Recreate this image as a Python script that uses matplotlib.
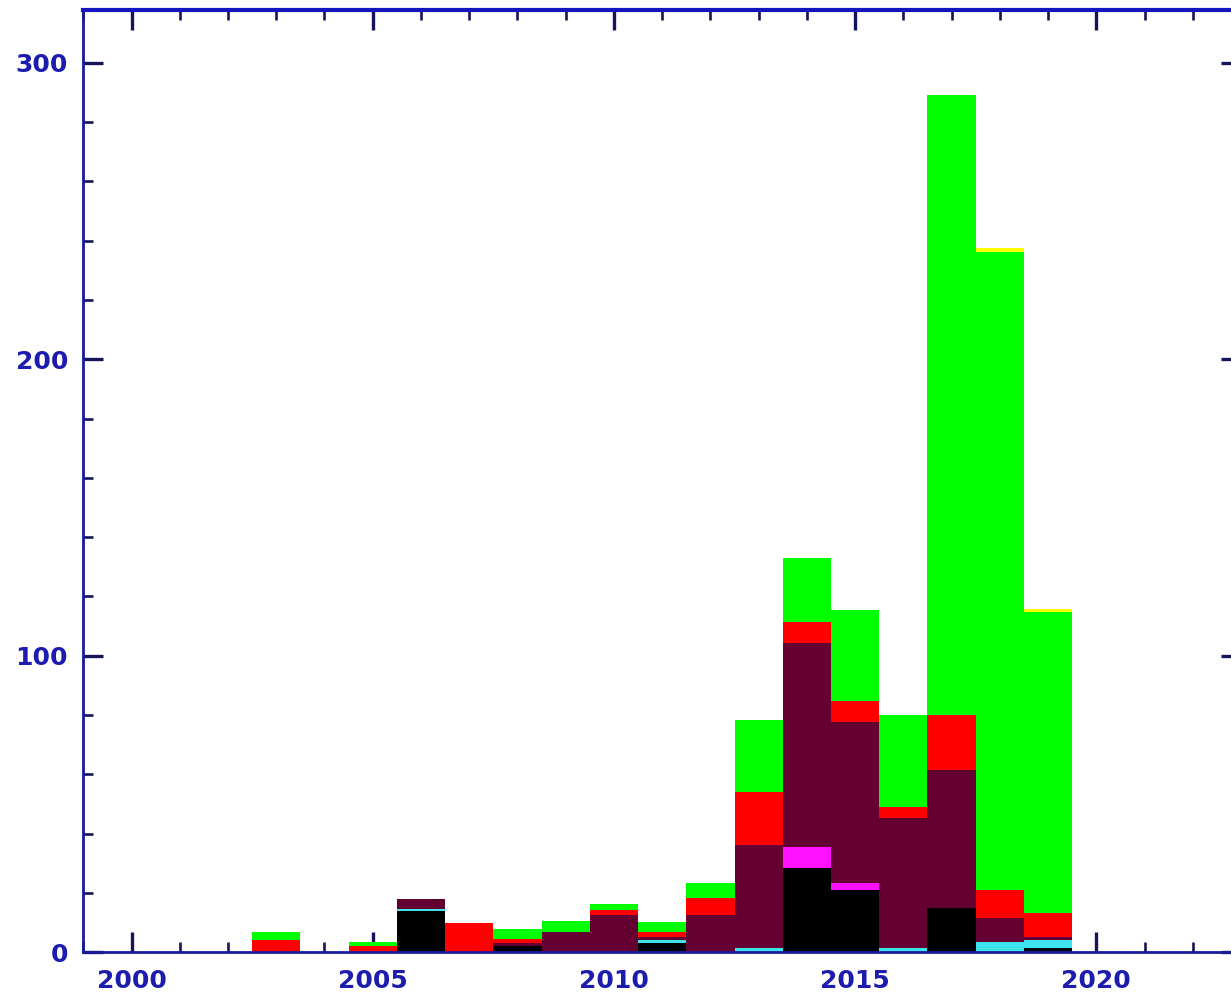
import numpy as np
import matplotlib
matplotlib.use("Agg")
import matplotlib.pyplot as plt
from matplotlib.ticker import MultipleLocator

# Yearly counts, stacked from bottom to top by category
years = [2003, 2004, 2005, 2006, 2007, 2008, 2009, 2010, 2011,
         2012, 2013, 2014, 2015, 2016, 2017, 2018, 2019]

black_vals   = [0, 0, 0, 14.0, 0, 2.0, 0, 0, 3.0, 0, 0, 28.3, 21.0, 0, 14.8, 0, 1.3]
cyan_vals    = [0, 0, 0, 0.7, 0, 0, 0, 0, 1.2, 0, 1.5, 0, 0, 1.5, 0, 3.6, 2.8]
magenta_vals = [0, 0, 0, 0, 0, 0, 0, 0, 0, 0, 0, 7.1, 2.5, 0, 0, 0, 0]
maroon_vals  = [0, 0, 0, 3.2, 0, 1.0, 7.0, 12.6, 1.0, 12.6, 34.7, 68.8, 54.1, 43.9, 46.7, 7.9, 1.2]
red_vals     = [4.0, 0, 2.2, 0, 10.0, 1.5, 0, 1.7, 1.5, 5.6, 18.0, 7.1, 7.2, 3.7, 18.5, 9.5, 7.9]
green_vals   = [2.7, 0, 1.4, 0, 0, 3.5, 3.7, 2.0, 3.6, 5.1, 24.1, 21.6, 30.6, 30.9, 209.2, 215.2, 101.7]
yellow_vals  = [0, 0, 0, 0, 0, 0, 0, 0, 0, 0, 0, 0, 0, 0, 0, 1.5, 1.0]

series = [
    (black_vals, "#000000"),
    (cyan_vals, "#3fe3ee"),
    (magenta_vals, "#ff10ff"),
    (maroon_vals, "#650032"),
    (red_vals, "#ff0000"),
    (green_vals, "#00ff00"),
    (yellow_vals, "#ffff00"),
]

x_ticks = [2000, 2005, 2010, 2015, 2020]
x_tick_labels = ["2000", "2005", "2010", "2015", "2020"]
y_ticks = [0, 100, 200, 300]
y_tick_labels = ["0", "100", "200", "300"]

W, H = 1231, 998
fig = plt.figure(figsize=(W / 100, H / 100), dpi=100)
fig.patch.set_facecolor("white")

# axes frame runs slightly past the right edge of the figure
left_px, right_px = 83.3, 1241.0
bottom_px, top_px = 952.3, 10.0
ax = fig.add_axes([left_px / W, (H - bottom_px) / H,
                   (right_px - left_px) / W, (bottom_px - top_px) / H])

bottom = np.zeros(len(years))
for vals, color in series:
    v = np.asarray(vals, dtype=float)
    ax.bar(years, v, width=1.0, bottom=bottom, color=color,
           linewidth=0, align="center", zorder=2)
    bottom += v

ax.set_xlim(1999, 2023)
ax.set_ylim(0, 317.8)

ax.set_xticks(x_ticks)
ax.set_xticklabels(x_tick_labels)
ax.set_yticks(y_ticks)
ax.set_yticklabels(y_tick_labels)
ax.xaxis.set_minor_locator(MultipleLocator(1))
ax.yaxis.set_minor_locator(MultipleLocator(20))

tick_color = "#15155e"
label_color = "#1c1cae"
ax.tick_params(which="both", direction="in", top=True, right=True,
               color=tick_color, labelcolor=label_color)
ax.tick_params(which="major", length=14.5, width=2.4)
ax.tick_params(which="minor", length=7.5, width=1.9)
ax.tick_params(axis="y", which="major", pad=11)
ax.tick_params(axis="x", which="major", pad=12)

for lab in ax.get_xticklabels() + ax.get_yticklabels():
    lab.set_fontsize(18)
    lab.set_fontweight("bold")
    lab.set_family("DejaVu Sans")

for side, sp in ax.spines.items():
    sp.set_color("#1a1a9a")
    sp.set_linewidth(2.0)
ax.spines["top"].set_color("#1515c0")
ax.spines["top"].set_linewidth(3.0)

fig.savefig("out.png", dpi=100, facecolor="white")
